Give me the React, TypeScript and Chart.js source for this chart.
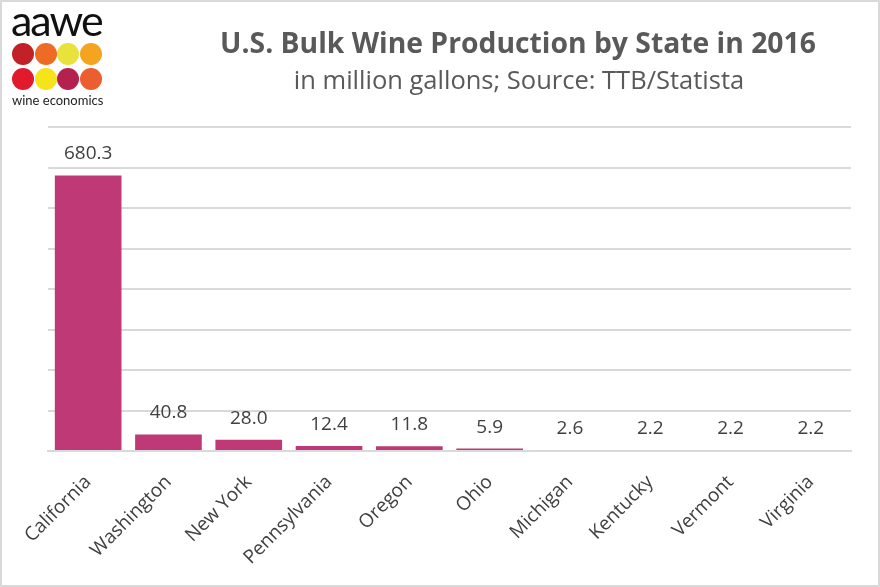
import React, { useEffect, useRef } from "react";
import { Chart, registerables } from "chart.js";

Chart.register(...registerables);

const states = ["California", "Washington", "New York", "Pennsylvania", "Oregon", "Ohio", "Michigan", "Kentucky", "Vermont", "Virginia"];
const production = [680.3, 40.8, 28.0, 12.4, 11.8, 5.9, 2.6, 2.2, 2.2, 2.2];
const yMax = 800;
const yStep = 100;
const titleText = "U.S. Bulk Wine Production by State in 2016";
const subtitleText = "in million gallons; Source: TTB/Statista";
const logoColors = ["#c22127", "#ed6b25", "#e9e23c", "#f5a420", "#e11b2d", "#f7e31a", "#b5214f", "#ec5d30"];

const FONT = "'Open Sans', sans-serif";
const LOGO_FONT = "Lato, sans-serif";

const labelPlugin = {
  id: "valueLabels",
  afterDatasetsDraw(chart: any) {
    const ctx = chart.ctx;
    const meta = chart.getDatasetMeta(0);
    ctx.save();
    ctx.font = `19px ${FONT}`;
    ctx.fillStyle = "#404040";
    ctx.textAlign = "center";
    ctx.textBaseline = "alphabetic";
    meta.data.forEach((bar: any, i: number) => {
      ctx.fillText(production[i].toFixed(1), bar.x, bar.y - 16);
    });
    ctx.restore();
  },
};

const titlePlugin = {
  id: "titles",
  afterDraw(chart: any) {
    const ctx = chart.ctx;
    ctx.save();
    ctx.textAlign = "center";
    ctx.textBaseline = "alphabetic";
    ctx.fillStyle = "#595959";
    ctx.font = `bold 28.3px ${FONT}`;
    ctx.fillText(titleText, 516, 51);
    ctx.font = `25.5px ${FONT}`;
    ctx.fillText(subtitleText, 517, 87);
    ctx.restore();
  },
};

export default function App() {
  const ref = useRef<HTMLCanvasElement>(null);
  useEffect(() => {
    document.body.style.margin = "0";
    const chart = new Chart(ref.current!, {
      type: "bar",
      data: {
        labels: states,
        datasets: [
          {
            data: production,
            backgroundColor: "#be3976",
            barPercentage: 0.83,
            categoryPercentage: 1,
          },
        ],
      },
      options: {
        animation: false,
        responsive: false,
        layout: { padding: { left: 46, right: 27, top: 125, bottom: 0 } },
        plugins: { legend: { display: false }, tooltip: { enabled: false } },
        scales: {
          x: {
            grid: { display: false },
            border: { display: true, color: "#d9d9d9", width: 2 },
            ticks: {
              color: "#404040",
              font: { family: FONT, size: 19 },
              minRotation: 45,
              maxRotation: 45,
              padding: 12,
            },
            afterFit: (s: any) => {
              s.height = 134;
            },
          },
          y: {
            min: 0,
            max: yMax,
            ticks: { display: false, stepSize: yStep },
            grid: { color: "#d9d9d9", lineWidth: 2, drawTicks: false },
            border: { display: false },
            afterFit: (s: any) => {
              s.width = 0;
            },
          },
        },
      },
      plugins: [labelPlugin, titlePlugin],
    });
    return () => chart.destroy();
  }, []);

  return (
    <div
      style={{
        position: "absolute",
        left: 0,
        top: 0,
        width: 880,
        height: 587,
        boxSizing: "border-box",
        border: "2px solid #d9d9d9",
        background: "#fff",
        overflow: "hidden",
      }}
    >
      <canvas ref={ref} width={876} height={583} style={{ position: "absolute", left: 0, top: 0, width: 876, height: 583 }} />
      <div
        style={{
          position: "absolute",
          left: 9,
          top: -3,
          fontFamily: LOGO_FONT,
          fontSize: 43,
          color: "#111",
          letterSpacing: -2,
          lineHeight: "42px",
        }}
      >
        aawe
      </div>
      {logoColors.map((c, i) => (
        <div
          key={i}
          style={{
            position: "absolute",
            left: 10 + (i % 4) * 22.6,
            top: 41 + Math.floor(i / 4) * 25,
            width: 22,
            height: 22,
            borderRadius: "50%",
            background: c,
          }}
        />
      ))}
      <div
        style={{
          position: "absolute",
          left: 10,
          top: 91,
          fontFamily: LOGO_FONT,
          fontSize: 13,
          color: "#222",
          lineHeight: "14px",
        }}
      >
        wine economics
      </div>
    </div>
  );
}
